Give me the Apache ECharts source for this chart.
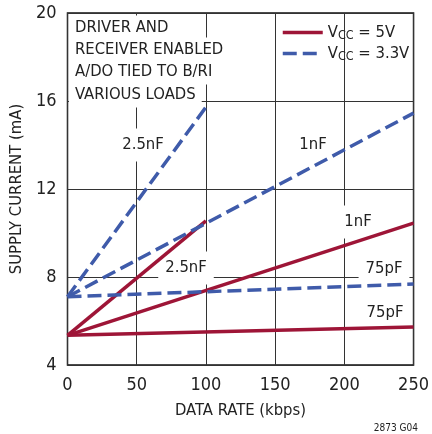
<!DOCTYPE html>
<html>
<head>
<meta charset="utf-8">
<script src="https://cdn.jsdelivr.net/npm/echarts@6/dist/echarts.min.js"></script>
<style>
html,body{margin:0;padding:0;background:#fff;}
#c{width:432px;height:434px;}
</style>
</head>
<body>
<div id="c"></div>
<script>
// Data (x = data rate kbps, y = supply current mA)
const xTicks = [0, 50, 100, 150, 200, 250];
const yTicks = [4, 8, 12, 16, 20];
const red25X = [0, 100];   const red25Y = [5.35, 10.55];
const red1X = [0, 250];    const red1Y = [5.35, 10.45];
const red75X = [0, 250];   const red75Y = [5.35, 5.73];
const blue25X = [0, 100];  const blue25Y = [7.1, 15.72];
const blue1X = [0, 250];   const blue1Y = [7.1, 15.45];
const blue75X = [0, 250];  const blue75Y = [7.1, 7.68];
const notes = ['DRIVER AND', 'RECEIVER ENABLED', 'A/DO TIED TO B/RI', 'VARIOUS LOADS'];
const loadLabels = ['2.5nF', '1nF', '1nF', '2.5nF', '75pF', '75pF'];

const FONT = "'Liberation Sans Narrow', 'DejaVu Sans Condensed', 'Liberation Sans', sans-serif";
const RED = '#9e1537';
const BLUE = '#3f5baa';
const zip = (xs, ys) => xs.map((x, i) => [x, ys[i]]);

function line(name, xs, ys, color, dashed) {
  return {
    type: 'line', name: name, data: zip(xs, ys), symbol: 'none', z: 3,
    lineStyle: { color: color, width: 3.5, type: dashed ? [14, 6] : 'solid' },
    itemStyle: { color: color },
    animation: false
  };
}

const chart = echarts.init(document.getElementById('c'), null, { renderer: 'canvas' });

const textStyle = (t, x, y, align, size) => ({
  type: 'text', z: 1,
  x: x, y: y,
  style: {
    text: t, font: (size || 16) + 'px ' + FONT, fill: '#222',
    align: align || 'center', verticalAlign: 'middle',
    backgroundColor: '#fff', padding: [8, 7, 8, 7]
  }
});

const graphics = [];
const noteY = [28, 50, 72, 95];
notes.forEach((t, i) => {
  const g = textStyle(t, 69, noteY[i], 'left', 16.5);
  g.style.padding = [4, 6, 4, 6];
  graphics.push(g);
});
const labelPos = [[143, 145], [313, 145], [358, 222], [186, 268], [384, 269], [385, 313]];
loadLabels.forEach((t, i) => {
  graphics.push(textStyle(t, labelPos[i][0], labelPos[i][1], 'center', 16.5));
});
graphics.push({
  type: 'text', z: 1, x: 418, y: 428,
  style: { text: '2873 G04', font: '10px ' + FONT, fill: '#222', align: 'right', verticalAlign: 'middle' }
});

chart.setOption({
  backgroundColor: '#fff',
  animation: false,
  grid: { left: 66, right: 14, top: 13, bottom: 69, show: true, borderColor: '#111', borderWidth: 1.5, backgroundColor: 'transparent' },
  xAxis: {
    type: 'value', min: 0, max: 250, interval: 50,
    name: 'DATA RATE (kbps)', nameLocation: 'middle', nameGap: 37,
    nameTextStyle: { fontFamily: FONT, fontSize: 16.5, color: '#222' },
    axisLine: { show: false }, axisTick: { show: false },
    axisLabel: { fontFamily: FONT, fontSize: 18, color: '#222', margin: 11, formatter: v => xTicks.includes(v) ? String(v) : '' },
    splitLine: { show: true, lineStyle: { color: '#333', width: 1 } }
  },
  yAxis: {
    type: 'value', min: 4, max: 20, interval: 4,
    name: 'SUPPLY CURRENT (mA)', nameLocation: 'middle', nameGap: 42,
    nameTextStyle: { fontFamily: FONT, fontSize: 16.5, color: '#222' },
    axisLine: { show: false }, axisTick: { show: false },
    axisLabel: { fontFamily: FONT, fontSize: 18, color: '#222', margin: 11, formatter: v => yTicks.includes(v) ? String(v) : '' },
    splitLine: { show: true, lineStyle: { color: '#333', width: 1 } }
  },
  legend: {
    data: ['VCC5', 'VCC33'],
    orient: 'vertical', left: 276, top: 19,
    itemWidth: 40, itemHeight: 14, itemGap: 3,
    itemStyle: { opacity: 0 },
    lineStyle: { width: 3.5 },
    formatter: n => n === 'VCC5' ? '{v|V}{s|CC}{v| = 5V}' : '{v|V}{s|CC}{v| = 3.3V}',
    textStyle: {
      color: '#222',
      rich: {
        v: { fontFamily: FONT, fontSize: 16.5, color: '#222' },
        s: { fontFamily: FONT, fontSize: 12.5, color: '#222', verticalAlign: 'bottom', padding: [6, 0, 0, 0] }
      }
    }
  },
  graphic: graphics,
  series: [
    line('VCC5', red25X, red25Y, RED, false),
    line('VCC5', red1X, red1Y, RED, false),
    line('VCC5', red75X, red75Y, RED, false),
    line('VCC33', blue25X, blue25Y, BLUE, true),
    line('VCC33', blue1X, blue1Y, BLUE, true),
    line('VCC33', blue75X, blue75Y, BLUE, true)
  ]
});
</script>
</body>
</html>
